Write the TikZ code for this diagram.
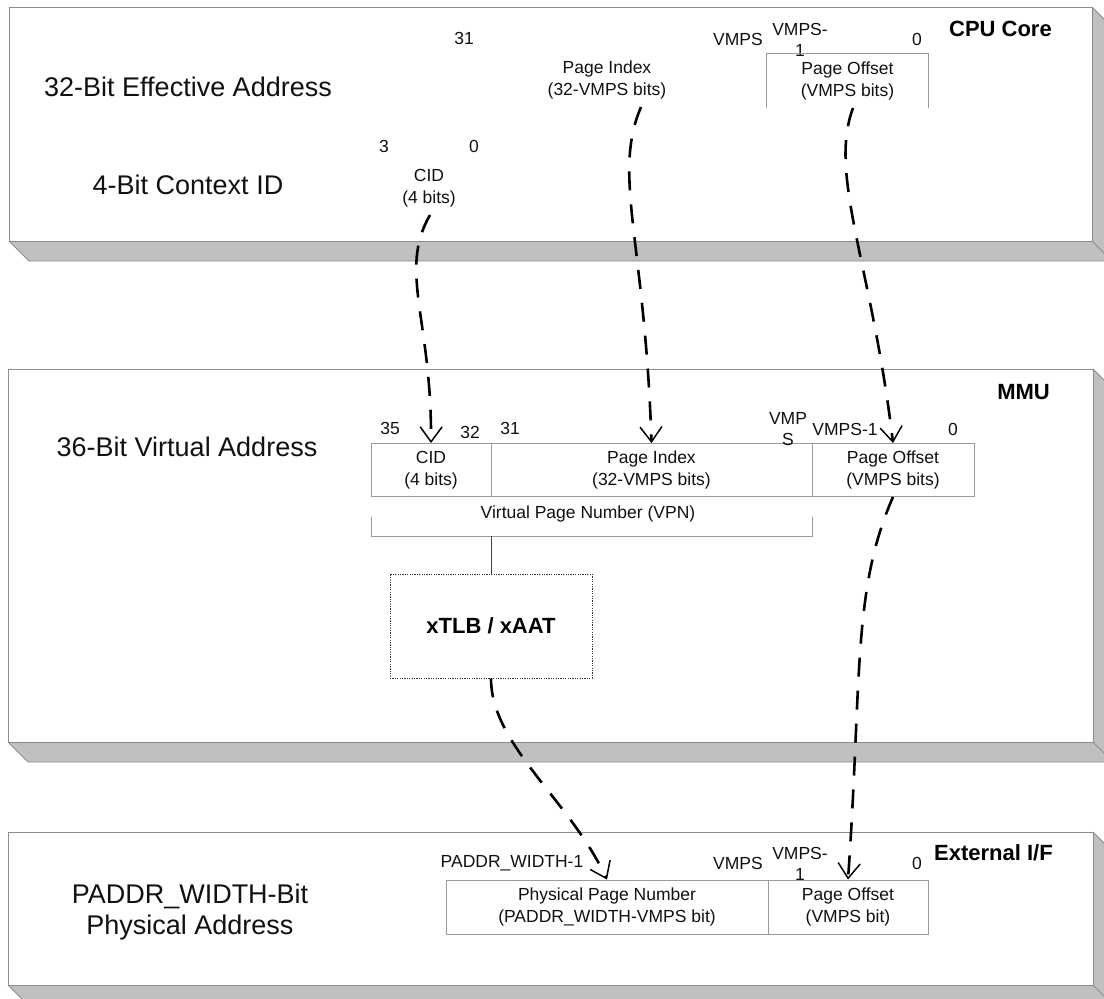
\documentclass[tikz,border=0pt]{standalone}
\usepackage{fontspec}
\setmainfont{Liberation Sans}
\usetikzlibrary{arrows.meta}
\definecolor{slabgrey}{HTML}{C0C0C0}
\definecolor{edgegrey}{HTML}{8C8C8C}
\definecolor{boxgrey}{HTML}{9A9A9A}
\definecolor{inkc}{HTML}{111111}
\newcommand{\slab}[4]{%
  \fill[white] (#1,#2) rectangle (#3,#4);
  \fill[slabgrey] (#1,#4) -- (#3,#4) -- (#3+20,#4+20) -- (#1+20,#4+20) -- cycle;
  \fill[slabgrey] (#3,#2) -- (#3+20,#2+20) -- (#3+20,#4+20) -- (#3,#4) -- cycle;
  \draw[edgegrey, line width=0.9pt] (#1,#2) rectangle (#3,#4);
  \draw[edgegrey, line width=0.9pt] (#1,#4) -- (#1+20,#4+20) -- (#3+20,#4+20);
  \draw[edgegrey, line width=0.9pt] (#3,#4) -- (#3+20,#4+20);
  \draw[edgegrey, line width=0.9pt] (#3,#2) -- (#3+20,#2+20);
}
\tikzset{
  sm/.style={font=\fontsize{17.5}{21.5}\selectfont, inner sep=0pt, align=center, text=inkc},
  big/.style={font=\fontsize{27}{31}\selectfont, inner sep=0pt, align=center, text=inkc},
  bld/.style={font=\bfseries\fontsize{22}{26}\selectfont, inner sep=0pt, anchor=east, text=black},
  field/.style={sm, draw=boxgrey, line width=0.9pt, minimum height=53pt},
  boxline/.style={draw=boxgrey, line width=0.9pt},
  link/.style={draw=black!75, line width=0.9pt},
  dotbox/.style={draw=black!80, line width=0.9pt, dash pattern=on 1.2pt off 1.2pt,
     font=\bfseries\fontsize{22}{26}\selectfont, inner sep=0pt},
  flow/.style={draw=black, line width=2.6pt, dash pattern=on 19pt off 14pt,
     -{Straight Barb[length=15pt, width=22pt, line width'=1.5pt]}},
}
\begin{document}
\begin{tikzpicture}[x=1pt, y=-1pt]
\path[use as bounding box] (0,0) rectangle (1104,999);
\clip (0,0) rectangle (1104,999);
\fill[white] (0,0) rectangle (1104,999);

% panels
\slab{9}{7}{1092}{241}
\slab{8}{369}{1093}{742}
\slab{8}{832}{1093}{985}

% ---------------- CPU Core ----------------
\node[bld] (cpu) at (1052,29) {CPU Core};
\node[big] (eaddr) at (188,87) {32-Bit Effective Address};
\node[big] (ctxid) at (188,185) {4-Bit Context ID};
\node[sm] (n31t) at (464,38) {31};
\node[sm] (vmpsT) at (738,39) {VMPS};
\node[sm] (vmps1T) at (800,40) {VMPS-\\1};
\node[sm] (n0t) at (917,39) {0};
\node[sm] (n3c) at (384,146) {3};
\node[sm] (n0c) at (474,146) {0};
\node[sm] (cidT) at (429,188) {CID\\(4 bits)};
\node[sm] (piT) at (607,80) {Page Index\\(32-VMPS bits)};
\node[sm, minimum width=161pt, minimum height=54pt] (poT) at (847.5,81) {Page Offset\\(VMPS bits)};
\draw[boxline] (poT.south west) |- (poT.north east) -- (poT.south east);
\coordinate (cidTs) at (430,215);
\coordinate (piTs) at (641,107);
\coordinate (poTs) at (853,108);

% ---------------- MMU ----------------
\node[bld] (mmu) at (1050,392) {MMU};
\node[big] (vaddr) at (187,447) {36-Bit Virtual Address};
\node[field, minimum width=120pt] (cidM) at (431,470) {CID\\(4 bits)};
\node[field, minimum width=321pt] (piM) at (651.5,470) {Page Index\\(32-VMPS bits)};
\node[field, minimum width=162pt] (poM) at (893,470) {Page Offset\\(VMPS bits)};
\node[sm] (n35) at (390,428) {35};
\node[sm] (n32) at (470,432) {32};
\node[sm] (n31m) at (510,428) {31};
\node[sm] (vmpsM) at (788,429) {VMP\\S};
\node[sm] (vmps1M) at (845,429) {VMPS-1};
\node[sm] (n0m) at (953,429) {0};
\node[sm] (vpn) at (588,514) {Virtual Page Number (VPN)};
\draw[boxline] (371,517) -- (371,536) -- (812,536) -- (812,517);
\coordinate (vpnmid) at (491,536);
\node[dotbox, minimum width=202pt, minimum height=104pt] (xtlb) at (491,626) {xTLB / xAAT};
\draw[link] (vpnmid) -- (xtlb.north);

% ---------------- External I/F ----------------
\node[bld] (ext) at (1053,853) {External I/F};
\node[big] (paddr) at (190,912) {PADDR\_WIDTH-Bit\\Physical Address};
\node[sm] (pw1) at (512,863) {PADDR\_WIDTH-1};
\node[sm] (vmpsB) at (738,863) {VMPS};
\node[sm] (vmps1B) at (800,864) {VMPS-\\1};
\node[sm] (n0b) at (917,863) {0};
\node[field, minimum width=322pt, minimum height=54pt] (ppn) at (607,907) {Physical Page Number\\(PADDR\_WIDTH-VMPS bit)};
\node[field, minimum width=160pt, minimum height=54pt] (poB) at (848,907) {Page Offset\\(VMPS bit)};

% ---------------- flows ----------------
\draw[flow] (cidTs) .. controls (398,270) and (432,320) .. (cidM.north);
\draw[flow] (piTs) .. controls (612,175) and (645,240) .. (piM.north);
\draw[flow] (poTs) .. controls (828,175) and (872,265) .. (poM.north);
\draw[flow] (poM.south) .. controls (852,590) and (862,680) .. (poB.north);
\draw[flow] (xtlb.south) .. controls (491,745) and (570,800) .. (ppn.north);
\end{tikzpicture}
\end{document}
